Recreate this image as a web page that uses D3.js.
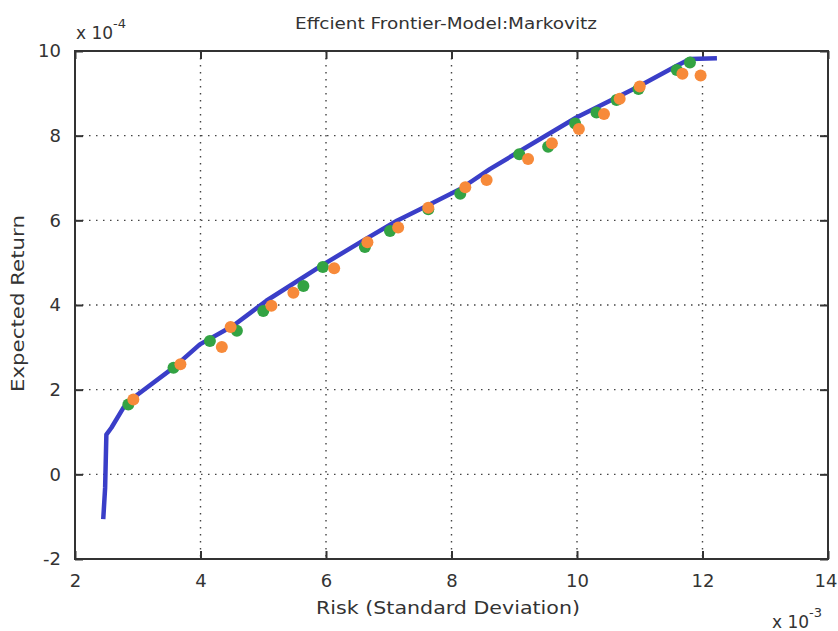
<!DOCTYPE html>
<html>
<head>
<meta charset="utf-8">
<script src="https://cdn.jsdelivr.net/npm/d3@7"></script>
<style>
  html, body { margin: 0; padding: 0; background: #fff; }
  svg { display: block; }
  text { font-family: "DejaVu Sans", "Liberation Sans", sans-serif; fill: #333; }
</style>
</head>
<body>
<svg id="chart" width="838" height="631"></svg>
<script>
// Risk in units of 1e-3, return in units of 1e-4
const xTicks = [2, 4, 6, 8, 10, 12, 14];
const yTicks = [-2, 0, 2, 4, 6, 8, 10];

const frontierRisk   = [2.45, 2.48, 2.50, 2.58, 2.77, 2.93, 3.57, 3.99, 4.52, 5.05, 5.96, 6.59, 7.13, 7.50, 8.14, 8.61, 9.99, 10.95, 11.59, 11.80, 12.23];
const frontierReturn = [-1.06, -0.32, 0.94, 1.10, 1.57, 1.81, 2.52, 3.07, 3.51, 4.10, 4.96, 5.52, 5.99, 6.26, 6.74, 7.21, 8.43, 9.14, 9.65, 9.81, 9.83];

const greenRisk   = [2.85, 3.57, 4.15, 4.58, 5.00, 5.64, 5.95, 6.62, 7.02, 7.63, 8.14, 9.08, 9.54, 9.97, 10.31, 10.63, 10.98, 11.59, 11.80];
const greenReturn = [1.65, 2.52, 3.15, 3.39, 3.86, 4.45, 4.90, 5.37, 5.75, 6.26, 6.63, 7.56, 7.74, 8.29, 8.55, 8.84, 9.10, 9.55, 9.73];

const orangeRisk   = [2.93, 3.68, 4.34, 4.48, 5.13, 5.48, 6.13, 6.66, 7.15, 7.63, 8.22, 8.56, 9.22, 9.60, 10.03, 10.43, 10.68, 11.00, 11.68, 11.97];
const orangeReturn = [1.77, 2.60, 3.01, 3.48, 3.98, 4.29, 4.87, 5.48, 5.83, 6.30, 6.78, 6.95, 7.45, 7.82, 8.16, 8.51, 8.87, 9.16, 9.46, 9.42];

const titleText = "Effcient Frontier-Model:Markovitz";
const xLabel = "Risk (Standard Deviation)";
const yLabel = "Expected Return";

const svg = d3.select("#chart");
const L = 75, R = 828, T = 51, B = 559;

const x = d3.scaleLinear().domain([2, 14]).range([L, R]);
const y = d3.scaleLinear().domain([-2, 10]).range([B, T]);

// grid
const grid = svg.append("g");
grid.selectAll("line.vx").data(xTicks.slice(1, -1)).enter().append("line")
  .attr("x1", d => x(d)).attr("x2", d => x(d)).attr("y1", T).attr("y2", B)
  .attr("stroke", "#444").attr("stroke-width", 1.4).attr("stroke-dasharray", "1.5,5.5");
grid.selectAll("line.hy").data(yTicks.slice(1, -1)).enter().append("line")
  .attr("y1", d => y(d)).attr("y2", d => y(d)).attr("x1", L).attr("x2", R)
  .attr("stroke", "#444").attr("stroke-width", 1.4).attr("stroke-dasharray", "1.5,5.5");

// axes (ticks inward)
const tickLen = 8;
const fmt = d => String(d);
const axB = svg.append("g").attr("transform", `translate(0,${B})`)
  .call(d3.axisBottom(x).tickValues(xTicks).tickSize(-tickLen).tickPadding(tickLen + 7).tickFormat(fmt));
const axT = svg.append("g").attr("transform", `translate(0,${T})`)
  .call(d3.axisTop(x).tickValues(xTicks).tickSize(-tickLen).tickFormat(""));
const axL = svg.append("g").attr("transform", `translate(${L},0)`)
  .call(d3.axisLeft(y).tickValues(yTicks).tickSize(-tickLen).tickPadding(tickLen + 6).tickFormat(fmt));
const axR = svg.append("g").attr("transform", `translate(${R},0)`)
  .call(d3.axisRight(y).tickValues(yTicks).tickSize(-tickLen).tickFormat(""));

[axB, axT, axL, axR].forEach(a => {
  a.select(".domain").remove();
  a.selectAll(".tick line").attr("stroke", "#333").attr("stroke-width", 2);
  a.selectAll(".tick text").attr("fill", "#333").style("font-size", "18px")
    .style("font-family", "DejaVu Sans, sans-serif");
});
axB.selectAll(".tick text").attr("dy", "0.71em");
// keep the last x label inside the page
axB.selectAll(".tick text").filter(d => d === 14)
  .attr("text-anchor", "end").attr("x", 9);

// frame
svg.append("rect").attr("x", L).attr("y", T).attr("width", R - L).attr("height", B - T)
  .attr("fill", "none").attr("stroke", "#333").attr("stroke-width", 2);

// frontier line
const line = d3.line().x(d => x(d[0])).y(d => y(d[1]));
svg.append("path")
  .datum(frontierRisk.map((r, i) => [r, frontierReturn[i]]))
  .attr("d", line).attr("fill", "none").attr("stroke", "#3a3ec8")
  .attr("stroke-width", 4.5).attr("stroke-linejoin", "round");

// points
svg.append("g").selectAll("circle").data(greenRisk.map((r, i) => [r, greenReturn[i]]))
  .enter().append("circle").attr("cx", d => x(d[0])).attr("cy", d => y(d[1])).attr("r", 6)
  .attr("fill", "#33a343");
svg.append("g").selectAll("circle").data(orangeRisk.map((r, i) => [r, orangeReturn[i]]))
  .enter().append("circle").attr("cx", d => x(d[0])).attr("cy", d => y(d[1])).attr("r", 6)
  .attr("fill", "#f78a3a");

// title
svg.append("text").attr("x", 446).attr("y", 29).attr("text-anchor", "middle")
  .style("font-size", "16px").attr("textLength", 302).attr("lengthAdjust", "spacingAndGlyphs")
  .text(titleText);

// axis labels
svg.append("text").attr("x", 316).attr("y", 614)
  .style("font-size", "18px").attr("textLength", 264).attr("lengthAdjust", "spacingAndGlyphs")
  .text(xLabel);
svg.append("text").attr("transform", "translate(24,392) rotate(-90)")
  .style("font-size", "18px").attr("textLength", 177).attr("lengthAdjust", "spacingAndGlyphs")
  .text(yLabel);

// exponent labels
const e1 = svg.append("text").attr("x", 76).attr("y", 39).style("font-size", "17px");
e1.append("tspan").text("x 10");
e1.append("tspan").attr("dy", -11).style("font-size", "13px").text("-4");
const e2 = svg.append("text").attr("x", 772).attr("y", 628).style("font-size", "17px");
e2.append("tspan").text("x 10");
e2.append("tspan").attr("dy", -11).style("font-size", "13px").text("-3");
</script>
</body>
</html>
